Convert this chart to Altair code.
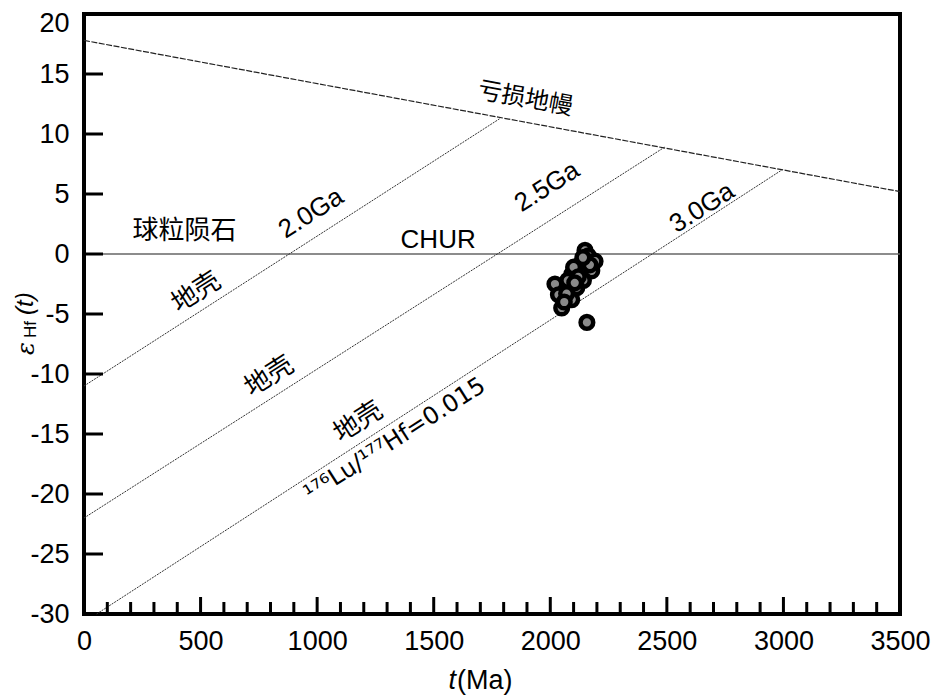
import altair as alt
import pandas as pd

# ---- reference curves (t in Ma, epsilon Hf) ----
dm_t = [0, 3500]
dm_e = [17.8, 5.2]
chur_t = [0, 3500]
chur_e = [0, 0]
ga20_t = [0, 1785]
ga20_e = [-11.0, 11.3]
ga25_t = [0, 2490]
ga25_e = [-22.0, 8.9]
ga30_t = [54, 2993]
ga30_e = [-30.0, 7.0]

# ---- zircon samples ----
sample_t = [2149, 2163, 2192, 2135, 2178, 2092, 2142, 2056, 2114, 2092, 2049,
            2157, 2020, 2035, 2075, 2100, 2120, 2070, 2170, 2140, 2060, 2105]
sample_e = [0.3, -0.15, -0.6, -0.7, -1.4, -1.7, -2.2, -2.9, -2.8, -3.8, -4.5,
            -5.7, -2.5, -3.4, -2.2, -1.1, -1.9, -3.3, -0.9, -0.3, -4.0, -2.4]

# ---- axis ticks ----
x_ticks = [0, 500, 1000, 1500, 2000, 2500, 3000, 3500]
y_ticks = [-30, -25, -20, -15, -10, -5, 0, 5, 10, 15, 20]
x_minor = [v for v in range(100, 3500, 100) if v % 500 != 0]
x_major = [500, 1000, 1500, 2000, 2500, 3000]
y_major = [-25, -20, -15, -10, -5, 0, 5, 10, 15]

# ---- annotations ----
rot_labels = ["2.0Ga", "2.5Ga", "3.0Ga", "地壳", "地壳", "地壳"]
rot_t = [974, 1986, 2651, 481, 794, 1176]
rot_e = [3.4, 5.6, 3.85, -3.2, -10.2, -14.0]
ratio_label = ["¹⁷⁶Lu/¹⁷⁷Hf=0.015"]
ratio_t = [1334]
ratio_e = [-15.5]
dm_label = ["亏损地幔"]
dm_label_t = [1892]
dm_label_e = [12.9]
flat_labels = ["CHUR", "球粒陨石"]
flat_t = [1519, 431]
flat_e = [1.2, 1.9]

FONT = "Liberation Sans"
MIX = "Liberation Sans, Noto Sans CJK SC"

xs = alt.Scale(domain=[0, 3500], nice=False, zero=False)
ys = alt.Scale(domain=[-30, 20], nice=False, zero=False)


def line_df(t, e):
    return pd.DataFrame({"t": t, "e": e})


X = alt.X("t:Q", scale=xs,
          axis=alt.Axis(values=x_ticks, title=None, ticks=False, domain=False, grid=False,
                        labelFont=FONT, labelFontSize=27, labelColor="black",
                        labelExpr="'' + datum.value",
                        labelPadding=14, labelFlush=False, labelOverlap=False))
Y = alt.Y("e:Q", scale=ys,
          axis=alt.Axis(values=y_ticks, title=None, ticks=False, domain=False, grid=False,
                        labelFont=FONT, labelFontSize=27, labelColor="black",
                        labelExpr="datum.value < 0 ? '-' + (-datum.value) : '' + datum.value",
                        labelOffset={"condition": {"test": "datum.value == 20", "value": 9}, "value": 0},
                        labelPadding=15, labelFlush=False, labelOverlap=False))

chur = alt.Chart(line_df(chur_t, chur_e)).mark_line(color="#666666", strokeWidth=1.5).encode(x=X, y=Y)
dm = alt.Chart(line_df(dm_t, dm_e)).mark_line(color="#222222", strokeWidth=1.2,
                                              strokeDash=[6, 1.5]).encode(x="t:Q", y="e:Q")
growth = []
for t, e in [(ga20_t, ga20_e), (ga25_t, ga25_e), (ga30_t, ga30_e)]:
    growth.append(alt.Chart(line_df(t, e)).mark_line(color="#333333", strokeWidth=1,
                                                     strokeDash=[2, 1]).encode(x="t:Q", y="e:Q"))

pts = alt.Chart(pd.DataFrame({"t": sample_t, "e": sample_e})).mark_point(
    filled=True, shape="circle", size=160, fill="#8a8a8a", stroke="black",
    strokeWidth=4.5, opacity=1, fillOpacity=1, strokeOpacity=1
).encode(x="t:Q", y="e:Q")

# inward ticks
xminor = alt.Chart(pd.DataFrame({"t": x_minor})).mark_rule(color="black", strokeWidth=3).encode(
    x="t:Q", y=alt.value(600), y2=alt.value(588))
xmajor = alt.Chart(pd.DataFrame({"t": x_major})).mark_rule(color="black", strokeWidth=3).encode(
    x="t:Q", y=alt.value(600), y2=alt.value(583))
ymajor = alt.Chart(pd.DataFrame({"e": y_major})).mark_rule(color="black", strokeWidth=3).encode(
    y="e:Q", x=alt.value(0), x2=alt.value(19))

# annotations
rot_df = pd.DataFrame({"t": rot_t, "e": rot_e, "label": rot_labels})
rot_txt = alt.Chart(rot_df).mark_text(angle=327.5, fontSize=26, font=MIX, color="black",
                                      align="center", baseline="middle").encode(
    x="t:Q", y="e:Q", text="label:N")
ratio_txt = alt.Chart(pd.DataFrame({"t": ratio_t, "e": ratio_e, "label": ratio_label})).mark_text(
    angle=327.5, fontSize=24, font="DejaVu Sans", color="black",
    align="center", baseline="middle").encode(x="t:Q", y="e:Q", text="label:N")
dm_txt = alt.Chart(pd.DataFrame({"t": dm_label_t, "e": dm_label_e, "label": dm_label})).mark_text(
    angle=10.4, fontSize=24, font=MIX, color="black", align="center", baseline="middle").encode(
    x="t:Q", y="e:Q", text="label:N")
flat_txt = alt.Chart(pd.DataFrame({"t": flat_t, "e": flat_e, "label": flat_labels})).mark_text(
    fontSize=26, font=MIX, color="black", align="center", baseline="middle").encode(
    x="t:Q", y="e:Q", text="label:N")

# axis titles (composed rich text)
tt1 = alt.Chart(pd.DataFrame({"s": ["t"]})).mark_text(
    font=FONT, fontSize=27, fontStyle="italic", align="right", baseline="alphabetic").encode(
    x=alt.value(372), y=alt.value(675), text="s:N")
tt2 = alt.Chart(pd.DataFrame({"s": ["(Ma)"]})).mark_text(
    font=FONT, fontSize=27, align="left", baseline="alphabetic").encode(
    x=alt.value(373), y=alt.value(675), text="s:N")
yt1 = alt.Chart(pd.DataFrame({"s": ["ε"]})).mark_text(
    font="DejaVu Serif", fontSize=24, fontStyle="italic", angle=270, align="left",
    baseline="alphabetic").encode(x=alt.value(-50), y=alt.value(341), text="s:N")
yt2 = alt.Chart(pd.DataFrame({"s": ["Hf"]})).mark_text(
    font=FONT, fontSize=17, angle=270, align="left", baseline="alphabetic").encode(
    x=alt.value(-48), y=alt.value(324), text="s:N")
yt3 = alt.Chart(pd.DataFrame({"s": ["(t)"]})).mark_text(
    font=FONT, fontSize=24, fontStyle="italic", angle=270, align="left",
    baseline="alphabetic").encode(x=alt.value(-51), y=alt.value(301), text="s:N")

chart = alt.layer(
    chur, dm, *growth, xminor, xmajor, ymajor, rot_txt, ratio_txt, dm_txt, flat_txt, pts,
    tt1, tt2, yt1, yt2, yt3
).properties(
    width=816, height=600,
    autosize=alt.AutoSizeParams(type="none"),
    padding={"left": 76, "top": 6, "right": 37, "bottom": 82},
).configure_view(stroke="black", strokeWidth=4)

chart.save("out.html", embed_options={"renderer": "svg", "actions": False})
